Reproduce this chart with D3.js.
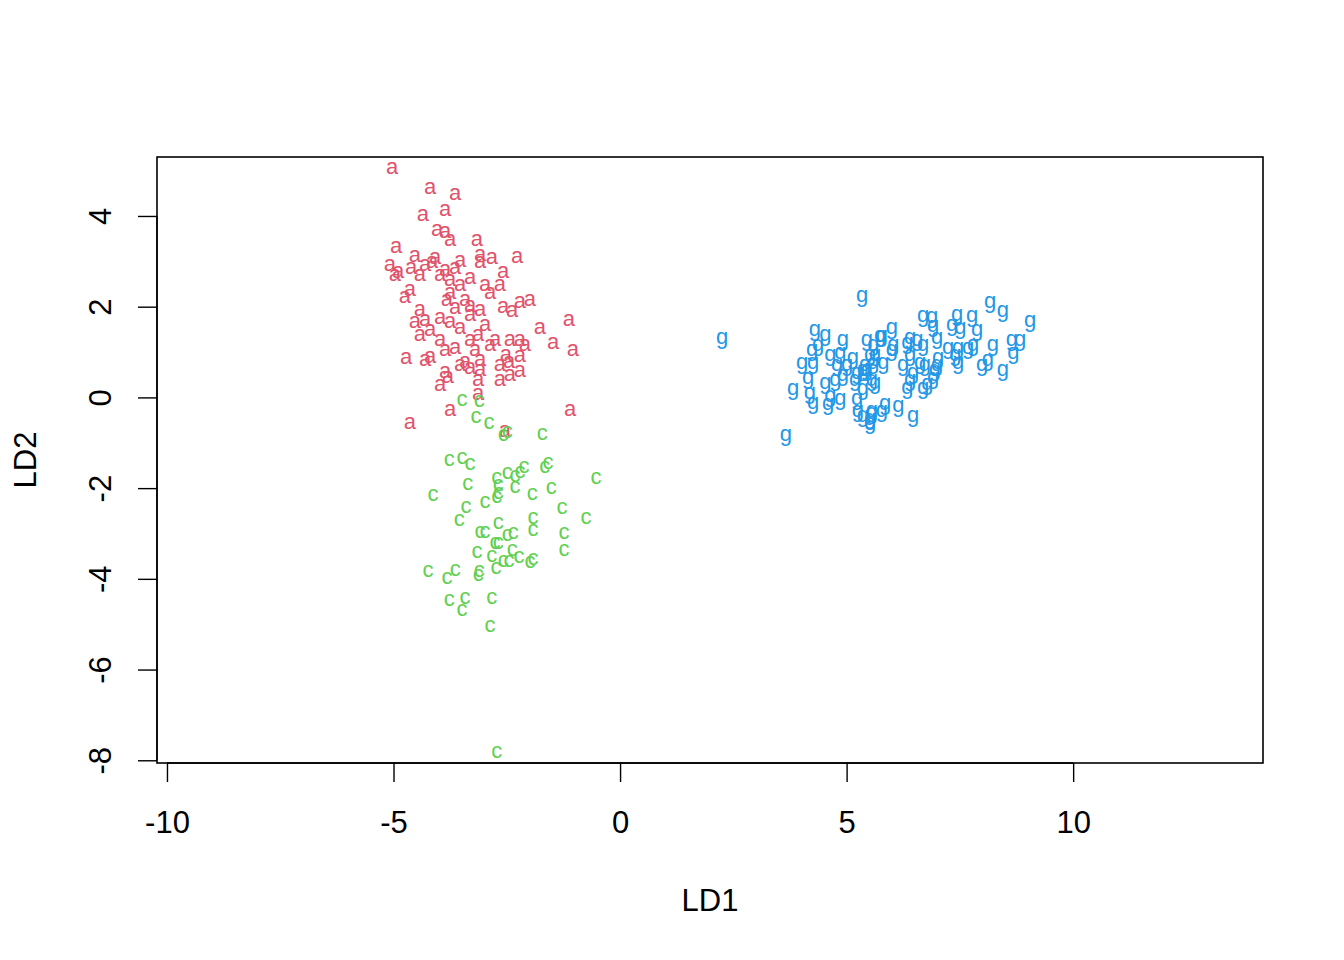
<!DOCTYPE html>
<html>
<head>
<meta charset="utf-8">
<script src="https://cdn.jsdelivr.net/npm/d3@7"></script>
<style>
  body { margin: 0; background: #fff; }
  text { font-family: "Liberation Sans", Arial, Helvetica, sans-serif; }
</style>
</head>
<body>
<svg id="chart" width="1344" height="960"></svg>
<script>
// LD scores, one array per group
const groupA = [
  [-5.03,5.06],[-4.19,4.62],[-3.64,4.48],[-3.86,4.13],[-4.35,4.02],[-4.04,3.69],[-3.86,3.65],[-3.75,3.47],
  [-3.16,3.47],[-4.94,3.32],[-4.53,3.12],[-4.08,3.07],[-3.53,3.01],[-3.09,3.14],[-2.83,3.07],[-2.27,3.10],
  [-5.08,2.92],[-4.90,2.76],[-4.61,2.85],[-4.30,2.92],[-4.15,2.98],[-3.86,2.81],[-3.64,2.85],[-3.09,2.98],
  [-2.58,2.76],[-4.97,2.70],[-4.42,2.70],[-3.97,2.70],[-3.75,2.59],[-3.31,2.63],[-2.98,2.48],[-2.65,2.48],
  [-3.53,2.48],[-4.64,2.37],[-4.75,2.21],[-3.75,2.30],[-2.87,2.30],[-3.82,2.15],[-3.42,2.15],[-3.64,1.97],
  [-3.31,2.01],[-3.09,1.93],[-2.58,1.99],[-2.21,2.10],[-1.99,2.15],[-2.38,1.90],[-4.42,1.93],[-4.30,1.71],
  [-3.97,1.75],[-3.75,1.66],[-3.31,1.82],[-2.98,1.59],[-4.53,1.66],[-4.19,1.48],[-3.53,1.53],[-3.13,1.37],
  [-4.42,1.37],[-2.76,1.26],[-2.43,1.26],[-2.21,1.26],[-1.77,1.53],[-1.13,1.71],[-1.48,1.20],[-1.04,1.04],
  [-3.31,1.26],[-3.97,1.26],[-3.64,1.09],[-3.86,1.04],[-3.20,1.04],[-2.87,1.15],[-2.10,1.15],[-4.72,0.87],
  [-4.19,0.89],[-4.30,0.82],[-3.42,0.78],[-3.09,0.82],[-2.52,0.93],[-2.21,0.91],[-2.45,0.78],[-3.86,0.56],
  [-3.53,0.71],[-3.31,0.65],[-3.09,0.60],[-3.80,0.45],[-3.97,0.27],[-3.13,0.38],[-2.65,0.38],[-2.43,0.49],
  [-2.21,0.58],[-2.65,0.71],[-3.13,0.07],[-3.75,-0.28],[-4.64,-0.57],[-1.10,-0.28],[-2.54,-0.74]
];
const groupC = [
  [-3.49,-0.06],[-3.11,-0.08],[-3.18,-0.43],[-2.89,-0.57],[-2.58,-0.83],[-2.49,-0.77],[-1.72,-0.81],[-3.77,-1.38],
  [-3.49,-1.34],[-3.31,-1.47],[-3.36,-1.91],[-4.13,-2.16],[-2.72,-1.78],[-2.69,-1.93],[-2.69,-2.11],[-2.72,-2.20],
  [-2.49,-1.67],[-2.32,-1.74],[-2.21,-1.65],[-2.12,-1.54],[-2.32,-1.98],[-1.66,-1.54],[-1.59,-1.45],[-0.53,-1.78],
  [-1.94,-2.13],[-1.52,-2.00],[-3.40,-2.42],[-2.98,-2.31],[-1.28,-2.44],[-3.55,-2.71],[-1.92,-2.66],[-0.75,-2.66],
  [-3.09,-2.97],[-2.98,-2.97],[-2.69,-2.77],[-2.49,-3.04],[-2.36,-2.99],[-1.92,-2.93],[-1.24,-2.99],[-1.24,-3.37],
  [-3.16,-3.41],[-2.76,-3.21],[-2.69,-3.21],[-2.83,-3.50],[-2.38,-3.37],[-2.58,-3.61],[-2.45,-3.61],[-2.23,-3.52],
  [-1.99,-3.63],[-1.92,-3.57],[-2.74,-3.77],[-3.11,-3.83],[-3.13,-3.92],[-4.24,-3.83],[-3.82,-3.99],[-3.64,-3.81],
  [-3.77,-4.47],[-3.42,-4.43],[-3.49,-4.69],[-2.83,-4.43],[-2.87,-5.05],[-2.72,-7.82]
];
const groupG = [
  [5.34,2.19],[2.25,1.26],[3.66,-0.88],[4.30,1.44],[4.53,1.33],[4.92,1.20],[5.45,1.22],[5.74,1.31],
  [4.24,0.98],[4.37,1.09],[4.02,0.71],[4.26,0.71],[4.64,0.87],[4.86,0.93],[5.14,0.82],[4.79,0.67],
  [5.01,0.65],[4.15,0.38],[3.82,0.12],[4.19,0.05],[4.26,-0.17],[4.53,0.27],[4.64,-0.02],[4.59,-0.21],
  [4.86,-0.10],[4.75,0.34],[4.92,0.43],[5.23,0.49],[5.19,0.32],[5.36,0.12],[5.23,-0.10],[5.25,-0.35],
  [5.36,-0.46],[5.52,-0.54],[5.56,-0.35],[5.45,0.56],[5.52,0.89],[5.59,1.11],[5.56,0.34],[6.69,1.75],
  [6.89,1.71],[7.44,1.77],[7.77,1.75],[8.17,2.04],[8.45,1.86],[9.05,1.64],[6.00,1.48],[5.78,1.31],
  [7.33,1.55],[7.51,1.48],[7.88,1.44],[6.91,1.53],[6.56,1.22],[6.40,1.26],[6.34,1.15],[6.69,1.11],
  [7.00,1.26],[7.24,1.04],[7.46,1.04],[7.68,1.04],[7.79,1.11],[8.23,1.09],[8.65,1.20],[8.83,1.22],
  [8.68,0.93],[7.99,0.65],[8.12,0.76],[8.45,0.54],[7.46,0.71],[7.40,0.89],[7.02,0.82],[7.00,0.67],
  [6.73,0.67],[6.62,0.71],[6.40,0.89],[6.25,0.67],[6.00,1.00],[6.03,1.11],[5.81,0.71],[5.63,0.89],
  [5.59,0.71],[5.41,0.67],[5.36,0.54],[5.63,0.27],[6.47,0.49],[6.40,0.32],[6.34,0.16],[6.78,0.23],
  [6.91,0.38],[6.95,0.54],[6.69,0.16],[6.14,-0.24],[5.85,-0.21],[5.78,-0.35],[5.56,-0.39],[6.47,-0.46],
  [5.52,-0.61]
];
const groups = [
  { label: 'a', color: '#DF536B', pts: groupA, dy: '0.27em' },
  { label: 'c', color: '#61D04F', pts: groupC, dy: '0.27em' },
  { label: 'g', color: '#2297E6', pts: groupG, dy: '0.16em' }
];
const xTicks = [-10, -5, 0, 5, 10];
const yTicks = [-8, -6, -4, -2, 0, 2, 4];

const LABEL_SIZE = 31, POINT_SIZE = 22;

// plot box in pixels
const box = { left: 157, right: 1263, top: 157, bottom: 763 };
const svg = d3.select('#chart');

const x = d3.scaleLinear().domain([-10.22, 14.19]).range([box.left, box.right]);
const y = d3.scaleLinear().domain([-8.06, 5.30]).range([box.bottom, box.top]);

// points drawn as letters
groups.forEach(g => {
  svg.append('g').selectAll('text')
    .data(g.pts)
    .join('text')
    .attr('x', d => x(d[0]))
    .attr('y', d => y(d[1]))
    .attr('dy', g.dy)
    .attr('text-anchor', 'middle')
    .attr('font-size', POINT_SIZE)
    .attr('fill', g.color)
    .text(g.label);
});

svg.append('rect')
  .attr('x', box.left).attr('y', box.top)
  .attr('width', box.right - box.left).attr('height', box.bottom - box.top)
  .attr('fill', 'none').attr('stroke', '#000').attr('stroke-width', 1.6);

const minus = d => d < 0 ? '-' + Math.abs(d) : d;

// x axis
const xAxis = d3.axisBottom(x).tickValues(xTicks).tickSize(19);
const gx = svg.append('g').attr('transform', `translate(0,${box.bottom})`).call(xAxis);
gx.select('.domain').attr('d', `M${x(-10)},0H${x(10)}`).attr('stroke-width', 1.4);
gx.selectAll('.tick line').attr('stroke-width', 1.4);
gx.selectAll('.tick text')
  .attr('font-size', LABEL_SIZE).attr('font-family', 'Liberation Sans, Arial, sans-serif')
  .attr('y', 59).attr('dy', '0.35em')
  .text(minus);

// y axis
const yAxis = d3.axisLeft(y).tickValues(yTicks).tickSize(19);
const gy = svg.append('g').attr('transform', `translate(${box.left},0)`).call(yAxis);
gy.select('.domain').attr('d', `M0,${y(-8)}V${y(4)}`).attr('stroke-width', 1.4);
gy.selectAll('.tick line').attr('stroke-width', 1.4);
gy.selectAll('.tick text')
  .attr('font-size', LABEL_SIZE).attr('font-family', 'Liberation Sans, Arial, sans-serif')
  .attr('x', null)
  .attr('text-anchor', 'middle')
  .attr('transform', 'translate(-57,0) rotate(-90)')
  .attr('dy', '0.35em')
  .text(minus);

// axis titles
svg.append('text')
  .attr('x', (box.left + box.right) / 2).attr('y', 900)
  .attr('dy', '0.35em').attr('text-anchor', 'middle')
  .attr('font-size', LABEL_SIZE).text('LD1');
svg.append('text')
  .attr('transform', `translate(25,${(box.top + box.bottom) / 2}) rotate(-90)`)
  .attr('dy', '0.35em').attr('text-anchor', 'middle')
  .attr('font-size', LABEL_SIZE).text('LD2');
</script>
</body>
</html>
